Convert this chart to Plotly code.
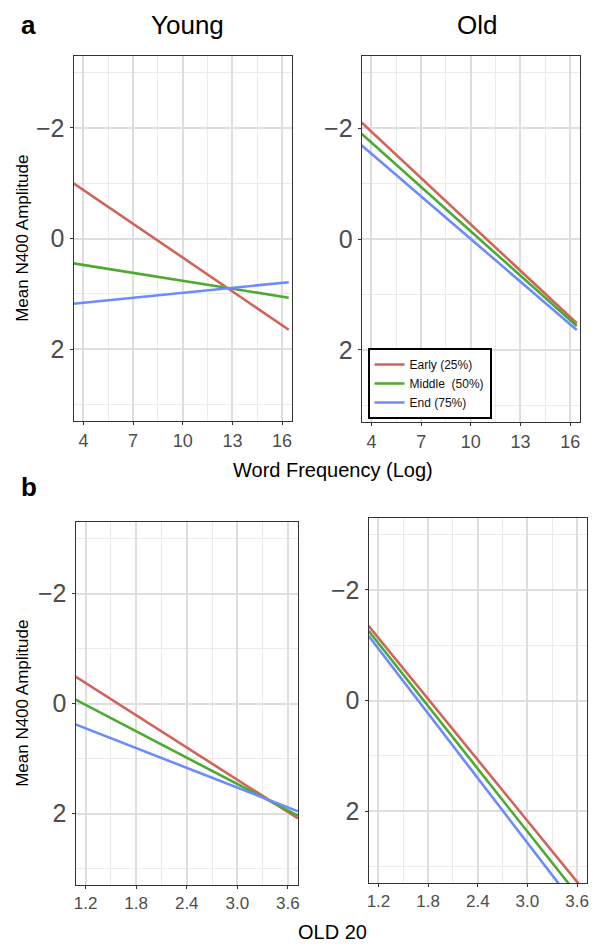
import plotly.graph_objects as go

# ---- data ----
series_names = ["Early (25%)", "Middle\u00a0 (50%)", "End (75%)"]
series_colors = ["#D0645A", "#4CAA2E", "#6A8CFF"]

freq_x = [3.4, 16.4]
young_freq = {"early": [-1.0, 1.65], "middle": [0.45, 1.07], "end": [1.18, 0.79]}
old_freq = {"early": [-2.1, 1.52], "middle": [-1.9, 1.57], "end": [-1.69, 1.64]}

old20_x = [1.08, 3.72]
young_old20 = {"early": [-0.49, 2.09], "middle": [-0.07, 2.04], "end": [0.38, 1.96]}
old_old20 = {"early": [-1.35, 3.5], "middle": [-1.26, 3.73], "end": [-1.17, 3.98]}

freq_ticks = [4, 7, 10, 13, 16]
old20_ticks = [1.2, 1.8, 2.4, 3.0, 3.6]
old20_ticklabels = ["1.2", "1.8", "2.4", "3.0", "3.6"]
amp_ticks = [-2, 0, 2]

W, H = 594, 952
FONT = "Liberation Sans, Arial, sans-serif"

fig = go.Figure()

panels = [
    (young_freq, freq_x, "", (72, 292, 56, 421), False),
    (old_freq, freq_x, "2", (362, 582, 56, 422), True),
    (young_old20, old20_x, "3", (74, 298, 522, 885), False),
    (old_old20, old20_x, "4", (369, 589, 518, 883), False),
]

keys = ["early", "middle", "end"]
layout_axes = {}
for i, (data, xv, sfx, (x0, x1, y0, y1), showleg) in enumerate(panels):
    for k, name, col in zip(keys, series_names, series_colors):
        fig.add_trace(go.Scatter(
            x=xv, y=data[k], mode="lines", name=name,
            line=dict(color=col, width=2.6),
            xaxis="x" + sfx, yaxis="y" + sfx,
            showlegend=showleg,
        ))
    is_freq = i < 2
    xaxis = dict(
        domain=[x0 / W, x1 / W], anchor="y" + sfx,
        range=[3.4, 16.6] if is_freq else [1.08, 3.72],
        tickvals=freq_ticks if is_freq else old20_ticks,
        ticktext=[str(t) for t in freq_ticks] if is_freq else old20_ticklabels,
        ticks="outside", ticklen=3, tickcolor="#333333",
        tickfont=dict(size=18 if is_freq else 17, color="#4d4d4d", family=FONT),
        showgrid=True, gridcolor="#dedede", gridwidth=1.6,
        minor=dict(tick0=4 if is_freq else 1.2, dtick=1.5 if is_freq else 0.3,
                   showgrid=True, gridcolor="#ebebeb", gridwidth=1.1),
        showline=True, linecolor="#333333", linewidth=1, mirror=True,
        zeroline=False, fixedrange=True,
    )
    yaxis = dict(
        domain=[1 - y1 / H, 1 - y0 / H], anchor="x" + sfx,
        range=[3.3, -3.3],
        tickvals=amp_ticks,
        ticks="outside", ticklen=3, tickcolor="#333333",
        tickfont=dict(size=25, color="#4d4d4d", family=FONT),
        showgrid=True, gridcolor="#dedede", gridwidth=1.6,
        minor=dict(tick0=-3, dtick=1, showgrid=True, gridcolor="#ebebeb", gridwidth=1.1),
        showline=True, linecolor="#333333", linewidth=1, mirror=True,
        zeroline=False, fixedrange=True,
    )
    layout_axes["xaxis" + sfx] = xaxis
    layout_axes["yaxis" + sfx] = yaxis

annotations = [
    dict(text="<b>a</b>", x=27 / W, y=1 - 25 / H, font=dict(size=26, color="black")),
    dict(text="<b>b</b>", x=27 / W, y=1 - 487 / H, font=dict(size=26, color="black")),
    dict(text="Young", x=187 / W, y=1 - 25 / H, font=dict(size=26, color="black")),
    dict(text="Old", x=478 / W, y=1 - 25 / H, font=dict(size=26, color="black")),
    dict(text="Word Frequency (Log)", x=333 / W, y=1 - 470 / H, font=dict(size=20, color="black")),
    dict(text="OLD 20", x=333 / W, y=1 - 932 / H, font=dict(size=20, color="black")),
    dict(text="Mean N400 Amplitude", x=20 / W, y=1 - 238 / H, textangle=-90,
         font=dict(size=17, color="black")),
    dict(text="Mean N400 Amplitude", x=20 / W, y=1 - 703 / H, textangle=-90,
         font=dict(size=17, color="black")),
]
for a in annotations:
    a.update(xref="paper", yref="paper", showarrow=False, xanchor="center", yanchor="middle")

fig.update_layout(
    width=W, height=H,
    margin=dict(l=0, r=0, t=0, b=0),
    paper_bgcolor="white", plot_bgcolor="white",
    font=dict(family=FONT, color="black"),
    annotations=annotations,
    legend=dict(
        x=368 / W, y=1 - 348 / H, xanchor="left", yanchor="top",
        bgcolor="white", bordercolor="black", borderwidth=2,
        font=dict(size=12, color="#111111", family=FONT),
        tracegroupgap=0, itemwidth=30,
    ),
    **layout_axes,
)

fig.write_html(
    "out.html",
    config={"displayModeBar": False},
    post_script="document.body.style.margin='0';document.body.style.overflow='hidden';",
)
